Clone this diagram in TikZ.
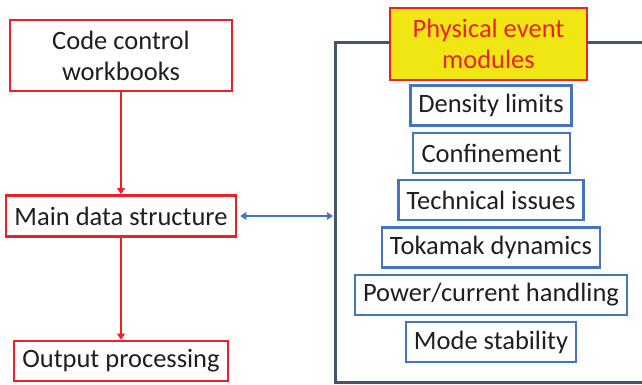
\documentclass[tikz,border=0pt]{standalone}
\usepackage{fontspec}
\setmainfont{Carlito}
\usetikzlibrary{arrows.meta}
\definecolor{flowred}{RGB}{237,32,40}
\definecolor{modblue}{RGB}{68,114,196}
\definecolor{frameslate}{RGB}{68,84,106}
\definecolor{hiyellow}{RGB}{240,230,20}
\tikzset{
  labelfont/.style={font=\fontsize{26.5}{31}\selectfont},
  flowbox/.style={draw=flowred, line width=2.6pt, fill=white, inner xsep=8pt, inner ysep=0pt,
    minimum height=40pt, labelfont, text=black!88},
  modbox/.style={draw=modblue, line width=2.6pt, fill=white, inner xsep=8pt, inner ysep=0pt,
    minimum height=40pt, labelfont, text=black!88},
  titlebox/.style={draw=flowred, line width=2.6pt, fill=hiyellow, align=center,
    minimum width=197pt, minimum height=72pt, inner sep=0pt,
    labelfont, text=flowred},
  redarrow/.style={draw=flowred, line width=2.4pt, -{Triangle[length=6pt,width=7.5pt]}},
  bluearrow/.style={draw=modblue, line width=2.4pt, {Triangle[length=6pt,width=7.5pt]}-{Triangle[length=6pt,width=7.5pt]}}
}
\begin{document}
\begin{tikzpicture}[x=1pt,y=1pt]
  \useasboundingbox (0,0) rectangle (642,385);
  \fill[white] (0,0) rectangle (642,385);
  \clip (0,0) rectangle (642,385);

  % left-hand flow
  \node[flowbox, align=center, minimum width=222pt, minimum height=71pt] (ccw) at (121,329.5) {Code control\\workbooks};
  \node[flowbox, minimum width=230pt, minimum height=41pt] (mds) at (121,169) {Main data structure};
  \node[flowbox, minimum width=214pt, minimum height=40pt] (out) at (121,24) {Output processing};

  \draw[redarrow] (ccw.south) -- (mds.north);
  \draw[redarrow] (mds.south) -- (out.north);

  % module frame, open to the right
  \coordinate (frtop) at (650,342);
  \coordinate (frtl) at (335,342);
  \coordinate (frbl) at (335,2);
  \coordinate (frbot) at (650,2);
  \draw[frameslate, line width=3pt] (frtop) -- (frtl) -- (frbl) -- (frbot);
  \coordinate (frin) at (333,169);

  \draw[bluearrow] ([xshift=3pt]mds.east) -- (frin);

  % module boxes
  \node[titlebox] (pem) at (488.5,341) {Physical event\\modules};
  \node[modbox, minimum width=161pt] (dl) at (491,279.5) {Density limits};
  \node[modbox, minimum width=157pt] (cf) at (491.5,232) {Confinement};
  \node[modbox, minimum width=184pt] (ti) at (491,185) {Technical issues};
  \node[modbox, minimum width=218pt] (td) at (491,137.3) {Tokamak dynamics};
  \node[modbox, minimum width=272pt] (pc) at (491,90) {Power/current handling};
  \node[modbox, minimum width=170pt] (ms) at (491,43) {Mode stability};
\end{tikzpicture}
\end{document}
